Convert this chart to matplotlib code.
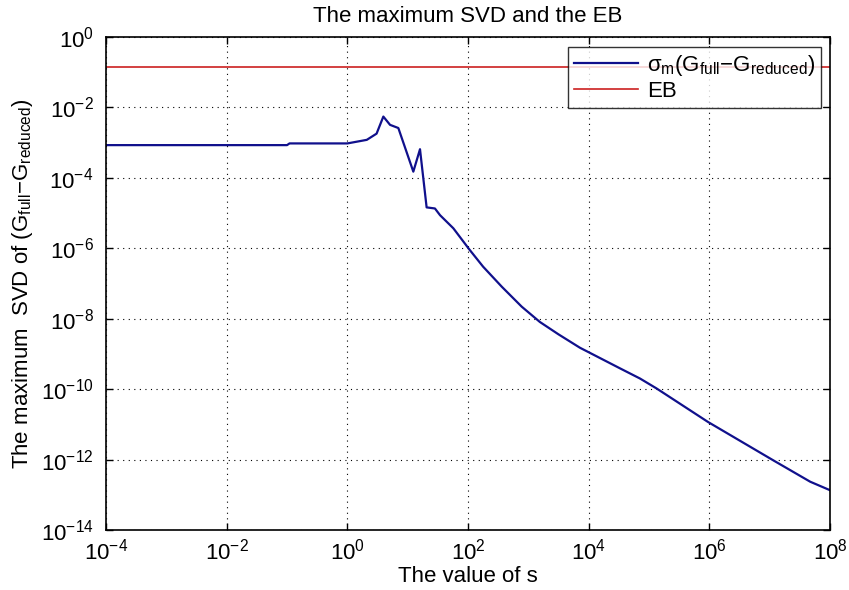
#!/usr/bin/env python3
"""Maximum singular value of the reduction error vs. the error bound."""

import matplotlib

matplotlib.use("Agg")
import matplotlib.pyplot as plt
from matplotlib.ticker import FixedLocator, NullLocator

# values (log-log)
s_values = [1e-4, 0.1, 0.11, 1.0, 2.1, 3.05, 3.95, 5.1, 7.0, 12.4, 16.0, 20.6,
            28.3, 34.4, 57.1, 105, 178, 363, 776, 1550, 3160, 7160, 3.3e4,
            7.1e4, 1.33e5, 9.5e5, 1.15e7, 4.7e7, 1e8]
sigma_max = [8.5e-4, 8.5e-4, 9.5e-4, 9.5e-4, 1.2e-3, 1.8e-3, 5.5e-3, 3.2e-3,
             2.6e-3, 1.5e-4, 6.5e-4, 1.45e-5, 1.35e-5, 8.7e-6, 3.7e-6, 9.3e-7,
             3.0e-7, 8.1e-8, 2.2e-8, 8.1e-9, 3.6e-9, 1.5e-9, 3.9e-10, 2.0e-10,
             1.05e-10, 1.17e-11, 9.5e-13, 2.35e-13, 1.35e-13]
eb_value = 0.145
x_range = [1e-4, 1e8]
x_ticks = [1e-4, 1e-2, 1e0, 1e2, 1e4, 1e6, 1e8]
y_ticks = [1e-14, 1e-12, 1e-10, 1e-8, 1e-6, 1e-4, 1e-2, 1e0]

plt.rcParams["font.family"] = ["Liberation Sans", "DejaVu Sans"]
plt.rcParams["mathtext.fontset"] = "custom"
plt.rcParams["mathtext.rm"] = "Liberation Sans"
plt.rcParams["mathtext.it"] = "Liberation Sans:italic"
plt.rcParams["mathtext.sf"] = "Liberation Sans"

fig = plt.figure(figsize=(8.49, 5.90), dpi=100)
ax = fig.add_axes([0.1249, 0.1017, 0.8527, 0.8356])

ax.loglog(s_values, sigma_max, color="#10108c", lw=1.6,
          label=r"σ$_\mathrm{m}$(G$_\mathrm{full}$$-$G$_\mathrm{reduced}$)")
ax.loglog(x_range, [eb_value, eb_value], color="#cc2020", lw=1.2, label="EB")

ax.set_xlim(x_range)
ax.set_ylim(1e-14, 1e0)
ax.xaxis.set_major_locator(FixedLocator(x_ticks))
ax.yaxis.set_major_locator(FixedLocator(y_ticks))
ax.xaxis.set_minor_locator(NullLocator())
ax.yaxis.set_minor_locator(NullLocator())
ax.tick_params(direction="in", top=True, right=True, length=5, width=1,
               labelsize=16)
ax.tick_params(axis="x", pad=6)
ax.tick_params(axis="y", pad=9)
ax.grid(True, which="major", color="black", ls=(0, (1, 4)), lw=0.8)
for spine in ax.spines.values():
    spine.set_linewidth(1.2)

ax.set_title("The maximum SVD and the EB", fontsize=16, pad=11)
ax.set_xlabel("The value of s", fontsize=16, labelpad=1)
ax.set_ylabel(r"The maximum  SVD of (G$_\mathrm{full}$$-$G$_\mathrm{reduced}$)",
              fontsize=16, labelpad=4)

leg = ax.legend(loc="upper right", bbox_to_anchor=(0.9876, 0.979), fontsize=16,
                frameon=True, fancybox=False, edgecolor="black",
                handlelength=2.9, handletextpad=0.4, borderpad=0.25,
                labelspacing=0.15, borderaxespad=0)
leg.get_frame().set_linewidth(1.0)

fig.savefig("out.png", dpi=100)
